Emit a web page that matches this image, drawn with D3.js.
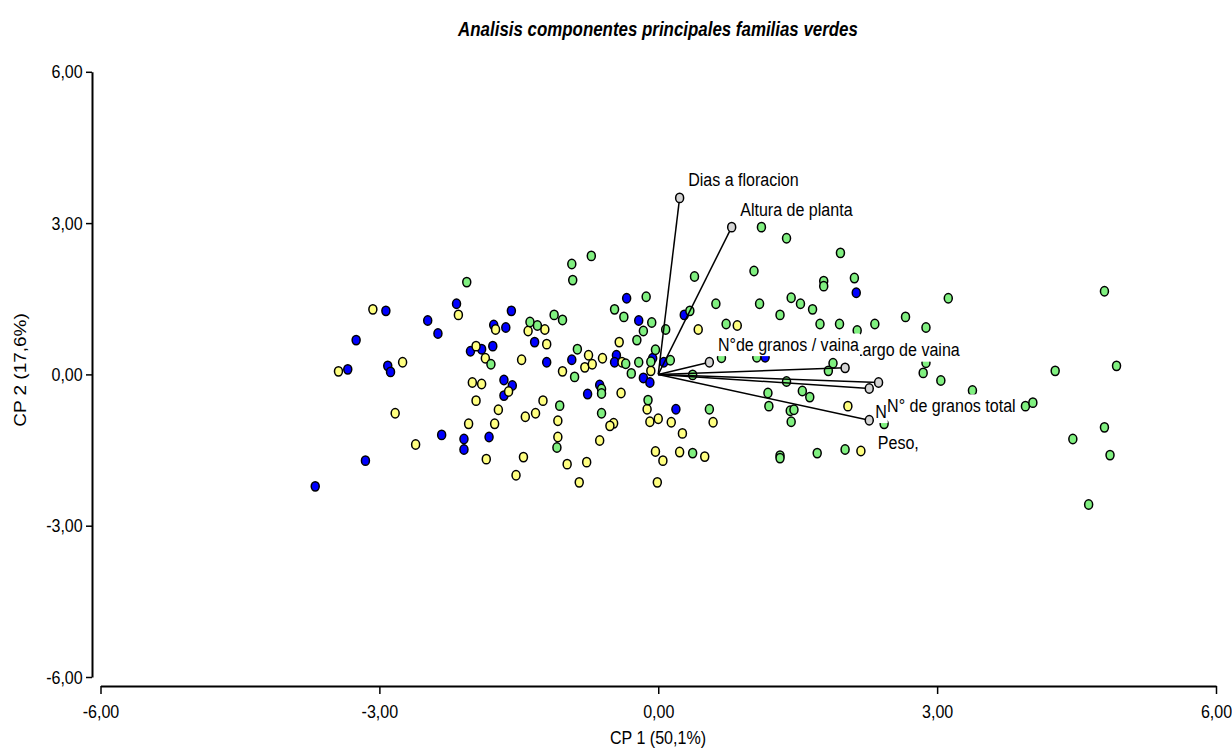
<!DOCTYPE html>
<html><head><meta charset="utf-8">
<script src="https://cdn.jsdelivr.net/npm/d3@7"></script>
<style>
body{margin:0;background:#fff}
text{font-family:"Liberation Sans",Arial,Helvetica,sans-serif;fill:#000}
</style>
</head><body><svg id="c" width="1232" height="753"></svg>
<script>
const tickValues = [-6, -3, 0, 3, 6];
const chartTitle = "Analisis componentes principales familias verdes";
const xTitle = "CP 1 (50,1%)";
const yTitle = "CP 2 (17,6%)";

const grupoAzul = [[-2.93,1.26],[-2.17,1.40],[-2.48,1.07],[-2.37,0.81],[-3.25,0.68],[-2.02,0.46],[-3.34,0.10],[-2.91,0.17],[-2.88,0.05],[-2.33,-1.20],[-2.09,-1.28],[-2.09,-1.49],[-3.15,-1.71],[-3.69,-2.22],[-0.34,1.51],[-1.58,1.26],[-0.21,1.07],[-1.77,0.98],[-1.64,0.93],[-1.33,0.64],[-1.90,0.50],[-1.78,0.56],[-1.20,0.24],[-0.93,0.29],[-0.45,0.38],[-0.47,0.24],[-0.06,0.32],[0.06,0.24],[-0.16,-0.07],[-0.09,-0.16],[-1.66,-0.11],[-1.57,-0.22],[-1.66,-0.42],[-1.82,-1.24],[-0.63,-0.21],[-0.76,-0.39],[0.19,-0.69],[0.28,1.18],[2.13,1.62],[1.15,0.34]];

const grupoAmarillo = [[-3.07,1.29],[-2.15,1.18],[-1.96,0.56],[-3.44,0.06],[-2.75,0.24],[-2.00,-0.16],[-1.96,-0.52],[-2.83,-0.77],[-2.04,-0.98],[-2.61,-1.39],[-1.75,0.89],[-1.40,0.86],[-1.22,0.89],[-1.20,0.60],[-0.42,0.64],[-1.86,0.32],[-1.47,0.29],[-0.75,0.38],[-0.60,0.32],[-0.79,0.14],[-0.71,0.20],[-0.39,0.24],[-0.08,0.07],[-1.03,0.06],[-1.90,-0.19],[-1.61,-0.34],[-1.72,-0.70],[-1.76,-0.98],[-1.85,-1.68],[-1.45,-1.64],[-1.53,-2.00],[-1.24,-0.52],[-1.32,-0.77],[-1.43,-0.84],[-1.08,-0.92],[-1.08,-1.24],[-0.98,-1.78],[-0.77,-1.74],[-0.85,-2.14],[-0.48,-0.97],[-0.52,-1.02],[-0.63,-1.31],[-0.40,-0.37],[-0.12,-0.69],[-0.09,-0.94],[0.00,-0.88],[0.14,-0.95],[-0.03,-1.53],[0.05,-1.71],[-0.01,-2.14],[0.43,0.89],[0.85,0.97],[0.59,-0.95],[0.26,-1.17],[0.23,-1.54],[0.50,-1.63],[2.04,-0.63],[2.18,-1.52]];

const grupoVerde = [[-2.06,1.83],[-0.72,2.35],[-0.93,2.19],[-0.92,1.87],[-0.13,1.54],[-0.47,1.29],[-0.37,1.14],[-0.07,1.03],[-0.16,0.86],[0.08,0.89],[-1.38,1.04],[-1.30,0.97],[-1.12,1.18],[-1.03,1.08],[-0.23,0.68],[-0.03,0.49],[-1.80,0.20],[-0.87,0.50],[-0.35,0.21],[-0.21,0.24],[-0.08,0.25],[-0.29,0.02],[0.13,0.28],[-0.90,-0.05],[-0.61,-0.29],[-0.61,-0.38],[-0.11,-0.51],[-1.06,-0.62],[-1.09,-1.45],[-0.61,-0.77],[1.11,2.92],[1.38,2.70],[1.96,2.41],[0.39,1.94],[1.03,2.05],[1.78,1.85],[1.78,1.75],[2.11,1.91],[3.12,1.51],[0.34,1.26],[0.62,1.40],[1.09,1.40],[1.43,1.52],[1.53,1.40],[1.66,1.29],[1.31,1.18],[0.73,1.00],[1.74,1.00],[1.95,1.00],[2.33,1.00],[2.66,1.14],[2.88,0.93],[2.14,0.87],[1.06,0.34],[0.68,0.33],[0.37,-0.01],[1.88,0.22],[1.83,0.07],[2.88,0.23],[2.85,0.03],[3.04,-0.12],[1.38,-0.14],[1.55,-0.33],[1.63,-0.45],[1.18,-0.37],[1.19,-0.63],[1.42,-0.72],[1.46,-0.70],[1.43,-0.94],[2.43,-0.98],[0.55,-0.69],[0.37,-1.56],[1.31,-1.61],[1.31,-1.66],[1.71,-1.56],[2.01,-1.49],[4.80,1.65],[4.27,0.07],[4.93,0.17],[3.38,-0.32],[3.95,-0.63],[4.03,-0.56],[4.80,-1.05],[4.46,-1.28],[4.86,-1.60],[4.63,-2.58]];

const variables = ["Dias a floracion","Altura de planta","Largo de vaina","N°de granos / vaina","N","N° de granos total","Peso,"];
const cargaX = [0.23, 0.79, 2.01, 0.55, 2.27, 2.37, 2.27];
const cargaY = [3.50, 2.92, 0.13, 0.24, -0.28, -0.16, -0.91];

const SX = 0.845; // horizontal squeeze of the original rendering

const svg = d3.select("#c");
const x = d3.scaleLinear().domain([-6, 6]).range([100.5, 1216]);
const y = d3.scaleLinear().domain([6, -6]).range([71.8, 677]);
const fmt = d => d3.format(".2f")(d).replace(".", ",").replace("\u2212", "-");

// title
svg.append("g").attr("transform", `translate(658,35.5) scale(${SX},1)`)
  .append("text").attr("text-anchor", "middle")
  .style("font-size", "20px").style("font-weight", "bold").style("font-style", "italic")
  .text(chartTitle);

// axes
const gx = svg.append("g").attr("transform", "translate(0,686)")
  .call(d3.axisBottom(x).tickValues(tickValues).tickFormat(fmt).tickSize(8).tickSizeOuter(0).tickPadding(11));
gx.select(".domain").attr("stroke-width", 2);
gx.selectAll(".tick line").attr("stroke-width", 1.5);
gx.selectAll(".tick text").style("font-size", "19px").attr("transform", `scale(${SX},1)`).attr("font-family", null);

const gy = svg.append("g").attr("transform", "translate(92,0)")
  .call(d3.axisLeft(y).tickValues(tickValues).tickFormat(fmt).tickSize(6).tickSizeOuter(0).tickPadding(5));
gy.select(".domain").attr("stroke-width", 2);
gy.selectAll(".tick line").attr("stroke-width", 1.5);
gy.selectAll(".tick text").style("font-size", "19px").attr("transform", `scale(${SX},1)`).attr("font-family", null);

svg.append("g").attr("transform", `translate(658,744) scale(${SX},1)`)
  .append("text").attr("text-anchor", "middle").style("font-size", "19px").text(xTitle);
svg.append("g").attr("transform", `translate(26,370) scale(${SX},1)`)
  .append("text").attr("text-anchor", "middle").attr("transform", "rotate(-90)").style("font-size", "19px").text(yTitle);

// points
const grupos = [
  {data: grupoAzul, fill: "#0000ff"},
  {data: grupoAmarillo, fill: "#ffff80"},
  {data: grupoVerde, fill: "#80f080"}
];
const pts = svg.append("g");
grupos.forEach(g => {
  pts.selectAll(null).data(g.data).enter().append("ellipse")
    .attr("cx", d => x(d[0])).attr("cy", d => y(d[1]))
    .attr("rx", 4.0).attr("ry", 4.7)
    .attr("fill", g.fill).attr("stroke", "#000").attr("stroke-width", 1.5);
});

// biplot vectors
const vecs = variables.map((v, i) => ({name: v, lx: cargaX[i], ly: cargaY[i]}));
const vg = svg.append("g");
vg.selectAll("line").data(vecs).enter().append("line")
  .attr("x1", x(0)).attr("y1", y(0))
  .attr("x2", d => x(d.lx)).attr("y2", d => y(d.ly))
  .attr("stroke", "#000").attr("stroke-width", 1.5);
vg.selectAll("ellipse").data(vecs).enter().append("ellipse")
  .attr("cx", d => x(d.lx)).attr("cy", d => y(d.ly))
  .attr("rx", 4.0).attr("ry", 4.7)
  .attr("fill", "#d4d4d4").attr("stroke", "#000").attr("stroke-width", 1.5);

// labels with white boxes
vecs.forEach(d => {
  const px = x(d.lx) + (d.name === "N" ? 6 : 8.5);
  const py = y(d.ly) + (d.ly >= 0 ? -11.5 : 29.2);
  const g = svg.append("g").attr("transform", `translate(${px},${py}) scale(${SX},1)`);
  const r = g.append("rect").attr("fill", "#fff");
  const t = g.append("text").style("font-size", "19px").text(d.name);
  const b = t.node().getBBox();
  r.attr("x", b.x - 1).attr("y", b.y).attr("width", b.width + 2).attr("height", b.height + 1);
});
</script>
</body></html>
